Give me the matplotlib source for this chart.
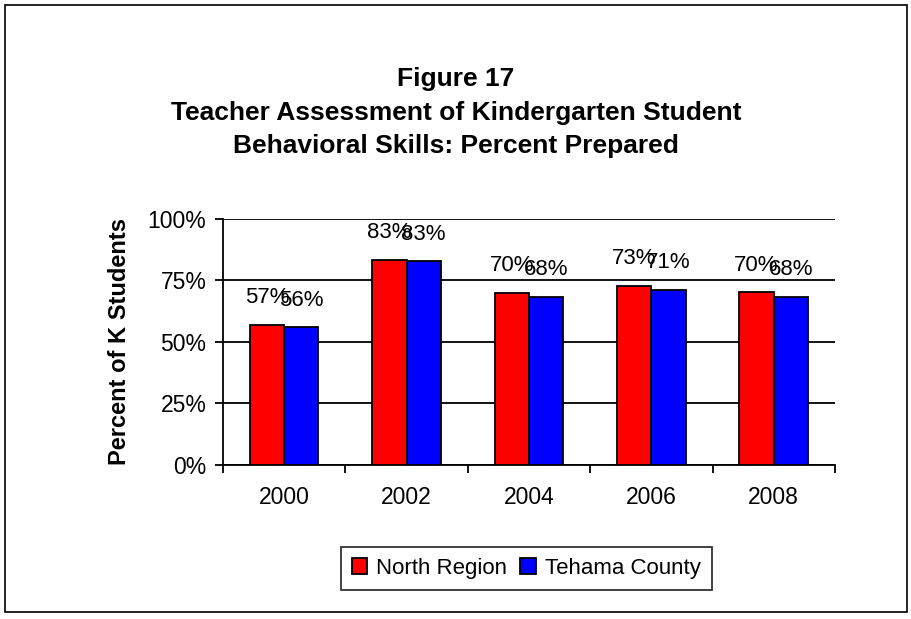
import numpy as np
import matplotlib
matplotlib.use("agg")
import matplotlib.pyplot as plt
from matplotlib.patches import Rectangle

years = ["2000", "2002", "2004", "2006", "2008"]
north_region = [57.0, 83.4, 70.0, 72.9, 70.2]
tehama_county = [56.0, 82.8, 68.3, 71.1, 68.4]
y_ticks = [0, 25, 50, 75, 100]

plt.rcParams["font.family"] = ["Liberation Sans", "DejaVu Sans"]

fig = plt.figure(figsize=(9.12, 6.19), dpi=100)
fig.patches.append(Rectangle((0.006, 0.011), 0.988, 0.981, transform=fig.transFigure,
                             fill=False, edgecolor="black", linewidth=1.2))

ax = fig.add_axes([0.2445, 0.2488, 0.671, 0.3974])

x = np.arange(len(years))
w = 0.28
ax.bar(x - w / 2, north_region, w, color="#ff0000", edgecolor="black", linewidth=1.3,
       label="North Region", zorder=3)
ax.bar(x + w / 2, tehama_county, w, color="#0000ff", edgecolor="black", linewidth=1.3,
       label="Tehama County", zorder=3)

# value labels sit right above each bar (they touch, as in the original)
for xi, v in zip(x - w / 2, north_region):
    ax.annotate(f"{v:.0f}%", (xi, v), xytext=(0, 12), textcoords="offset points",
                ha="center", va="bottom", fontsize=16)
for xi, v in zip(x + w / 2, tehama_county):
    ax.annotate(f"{v:.0f}%", (xi, v), xytext=(0, 12), textcoords="offset points",
                ha="center", va="bottom", fontsize=16)

ax.set_xlim(-0.5, len(years) - 0.5)
ax.set_ylim(0, 100)
ax.set_yticks(y_ticks)
ax.set_yticklabels([f"{t}%" for t in y_ticks], fontsize=16.5)
ax.set_xticks(np.arange(len(years) + 1) - 0.5)
ax.set_xticklabels([])
ax.set_xticks(x, minor=True)
ax.set_xticklabels(years, minor=True, fontsize=16.5)
ax.tick_params(axis="x", which="minor", length=0, pad=15)
ax.tick_params(axis="x", which="major", direction="out", length=6, width=1.3)
ax.tick_params(axis="y", direction="out", length=6, width=1.3, pad=6)

ax.grid(axis="y", color="black", linewidth=1.3, zorder=0)
for s in ["top", "right"]:
    ax.spines[s].set_visible(False)
for s in ["left", "bottom"]:
    ax.spines[s].set_linewidth(1.3)

ax.set_ylabel("Percent of K Students", fontsize=17, fontweight="bold", labelpad=12)

fig.text(0.5, 0.818, "Figure 17\nTeacher Assessment of Kindergarten Student\nBehavioral Skills: Percent Prepared",
         ha="center", va="center", fontsize=19, fontweight="bold", linespacing=1.5)

leg = fig.legend(loc="center", bbox_to_anchor=(0.577, 0.082), ncol=2, fontsize=16,
                 frameon=True, fancybox=False, handlelength=0.7, handleheight=0.7,
                 handletextpad=0.4, columnspacing=0.6, borderpad=0.5)
leg.get_frame().set_edgecolor("black")
leg.get_frame().set_linewidth(1.3)

fig.savefig("out.png", dpi=100)
